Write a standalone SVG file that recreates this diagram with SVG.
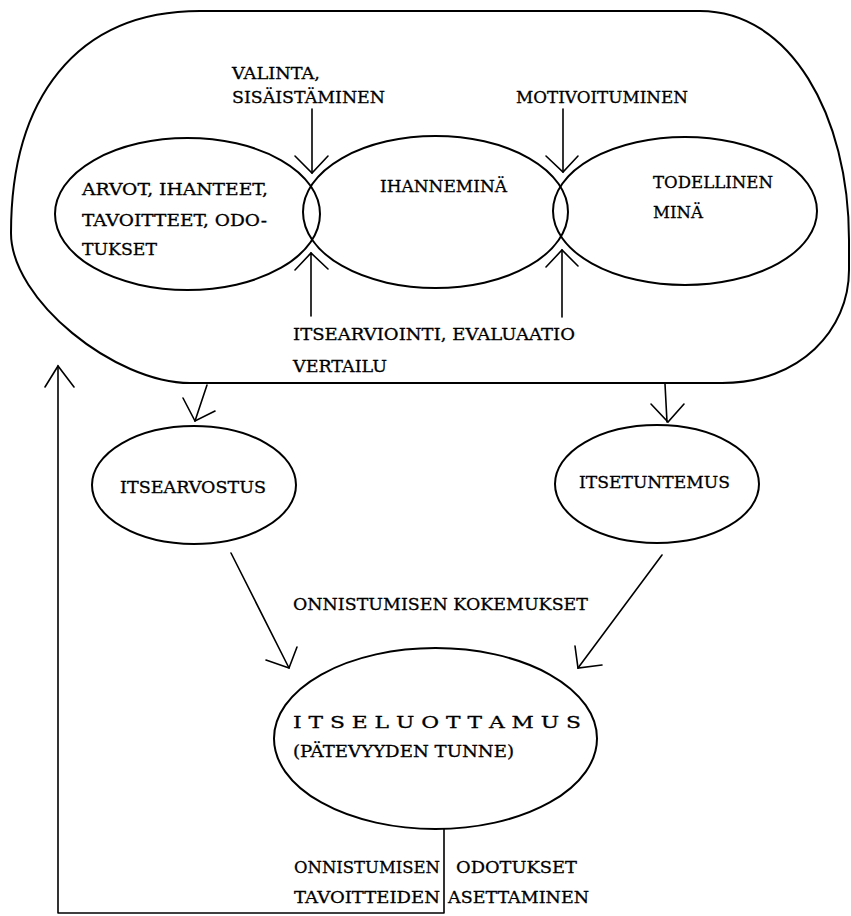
<svg xmlns="http://www.w3.org/2000/svg" width="851" height="916" viewBox="0 0 851 916">
<style>
.shape{fill:none;stroke:#000;stroke-width:2}
.ln{fill:none;stroke:#000;stroke-width:1.6;stroke-linecap:round;stroke-linejoin:round}
.hd{fill:none;stroke:#000;stroke-width:1.6;stroke-linecap:round;stroke-linejoin:miter}
text{font-family:"DejaVu Serif","Liberation Serif",serif;font-size:17px;fill:#000;stroke:#000;stroke-width:0.3}
</style>
<rect width="851" height="916" fill="#fff"/>
<g id="outer">
<path class="shape" d="M200,11 L700,11 C790,11 849,115 849,240 L849,270 C849,330 800,383 722,383 L190,383 C115,383 11,300 11,233 C11,100 75,11 200,11 Z"/>
</g>
<g id="arvot">
<ellipse class="shape" cx="187.5" cy="214" rx="132.5" ry="76"/>
<text x="82" y="195" textLength="186" lengthAdjust="spacingAndGlyphs">ARVOT, IHANTEET,</text>
<text x="82" y="226" textLength="185" lengthAdjust="spacingAndGlyphs">TAVOITTEET, ODO-</text>
<text x="82" y="255" textLength="75" lengthAdjust="spacingAndGlyphs">TUKSET</text>
</g>
<g id="ihannemina">
<ellipse class="shape" cx="435.5" cy="212" rx="132.5" ry="76"/>
<text x="380" y="192" textLength="127" lengthAdjust="spacingAndGlyphs">IHANNEMINÄ</text>
</g>
<g id="todellinen">
<ellipse class="shape" cx="685" cy="211" rx="132" ry="74"/>
<text x="653" y="188" textLength="120" lengthAdjust="spacingAndGlyphs">TODELLINEN</text>
<text x="653" y="218" textLength="50" lengthAdjust="spacingAndGlyphs">MINÄ</text>
</g>
<g id="itsearvostus">
<ellipse class="shape" cx="194" cy="485" rx="102" ry="59"/>
<text x="120" y="493" textLength="146" lengthAdjust="spacingAndGlyphs">ITSEARVOSTUS</text>
</g>
<g id="itsetuntemus">
<ellipse class="shape" cx="657" cy="484" rx="102" ry="59"/>
<text x="579" y="488" textLength="151" lengthAdjust="spacingAndGlyphs">ITSETUNTEMUS</text>
</g>
<g id="itseluottamus">
<ellipse class="shape" cx="435.5" cy="738.5" rx="161.5" ry="90.5"/>
<text x="293" y="728" textLength="288" lengthAdjust="spacingAndGlyphs">I T S E L U O T T A M U S</text>
<text x="293" y="757" textLength="221" lengthAdjust="spacingAndGlyphs">(PÄTEVYYDEN TUNNE)</text>
</g>
<g id="connectors">
<line class="ln" x1="312" y1="109" x2="312" y2="173"/>
<polyline class="hd" points="295,156 312,173 328,156"/>
<line class="ln" x1="311" y1="316" x2="311" y2="253"/>
<polyline class="hd" points="295,270 311,253 328,269"/>
<line class="ln" x1="563" y1="109" x2="563" y2="172"/>
<polyline class="hd" points="546,156 563,172 578,156"/>
<line class="ln" x1="562" y1="317" x2="562" y2="250"/>
<polyline class="hd" points="546,267 562,250 578,266"/>
<line class="ln" x1="207" y1="385" x2="195" y2="421"/>
<polyline class="hd" points="183,398 195,421 215,411"/>
<line class="ln" x1="665" y1="384" x2="667" y2="422"/>
<polyline class="hd" points="651,404 668,422 684,404"/>
<line class="ln" x1="231" y1="553" x2="289" y2="668"/>
<polyline class="hd" points="266,660 289,668 297,647"/>
<line class="ln" x1="662" y1="555" x2="578" y2="668"/>
<polyline class="hd" points="575,646 578,668 602,665"/>
<polyline class="ln" points="444,829 444,913 58,913 58,366"/>
<polyline class="hd" points="45,387 58,366 74,387"/>
</g>
<g id="labels">
<text x="232" y="79" textLength="88" lengthAdjust="spacingAndGlyphs">VALINTA,</text>
<text x="232" y="103" textLength="153" lengthAdjust="spacingAndGlyphs">SISÄISTÄMINEN</text>
<text x="516" y="103" textLength="172" lengthAdjust="spacingAndGlyphs">MOTIVOITUMINEN</text>
<text x="293" y="340" textLength="282" lengthAdjust="spacingAndGlyphs">ITSEARVIOINTI, EVALUAATIO</text>
<text x="293" y="372" textLength="94" lengthAdjust="spacingAndGlyphs">VERTAILU</text>
<text x="293" y="610" textLength="295" lengthAdjust="spacingAndGlyphs">ONNISTUMISEN KOKEMUKSET</text>
<text x="294" y="873" textLength="146" lengthAdjust="spacingAndGlyphs">ONNISTUMISEN</text>
<text x="456" y="873" textLength="121" lengthAdjust="spacingAndGlyphs">ODOTUKSET</text>
<text x="294" y="903" textLength="146" lengthAdjust="spacingAndGlyphs">TAVOITTEIDEN</text>
<text x="448" y="903" textLength="141" lengthAdjust="spacingAndGlyphs">ASETTAMINEN</text>
</g>
</svg>
